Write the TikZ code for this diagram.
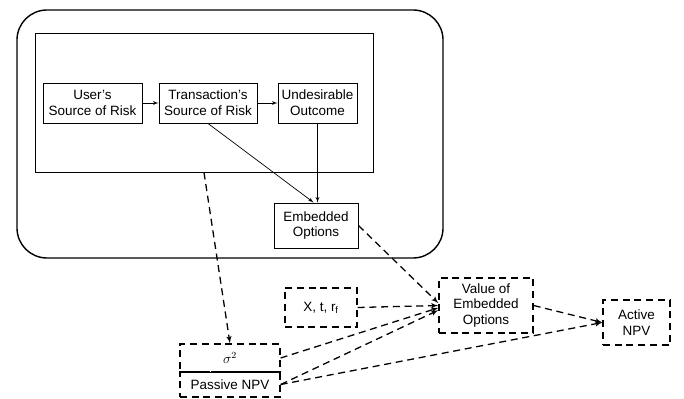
\documentclass[tikz,border=0pt]{standalone}
\usepackage{fontspec}
\setmainfont{Liberation Sans}
\usepackage{tikz}
\usetikzlibrary{arrows}

\begin{document}
\begin{tikzpicture}[x = 0.03cm, y = -0.03cm]
        \tikzset{box/.style = {shape=rectangle,draw,line width=0.8pt,align=center,inner sep=1pt,font=\fontsize{11.5}{13.5}\selectfont}}
        \tikzset{boxd/.style = {box,dash pattern=on 6pt off 4pt,line width=1.1pt}}
        \tikzset{edge/.style = {->,> = latex', line width=0.6pt}}
        \tikzset{edged/.style = {->,> = latex', line width=1.1pt, dash pattern=on 6pt off 4pt}}
        \useasboundingbox (0,0) rectangle (684,399);
        % frames
        \node[draw, line width=1.2pt, rounded corners=0.9cm, minimum width=12.78cm, minimum height=7.44cm] (firm) at (230,134) {};
        \node[draw, line width=0.8pt, minimum width=10.14cm, minimum height=4.17cm] (risk) at (204,102.5) {};
        % boxes
        \node[box, minimum width=2.97cm, minimum height=1.2cm] (users) at (92.5,103) {User's\\Source of Risk};
        \node[box, minimum width=2.94cm, minimum height=1.2cm] (trans) at (208,103) {Transaction's\\Source of Risk};
        \node[box, minimum width=2.37cm, minimum height=1.2cm] (undes) at (317.5,103) {Undesirable\\Outcome};
        \node[box, minimum width=2.52cm, minimum height=1.35cm] (embed) at (316,225.5) {Embedded\\Options};
        % dashed boxes
        \node[boxd, minimum width=2.16cm, minimum height=1.17cm] (xtr) at (321,307.5) {X, t, r$_\mathrm{f}$};
        \node[boxd, minimum width=3cm, minimum height=0.84cm] (sigma) at (230,358) {$\sigma^2$};
        \node[boxd, minimum width=3cm, minimum height=0.75cm] (passive) at (230,384.5) {Passive NPV};
        \node[boxd, minimum width=2.82cm, minimum height=1.65cm] (value) at (486,305.5) {Value of\\Embedded\\Options};
        \node[boxd, minimum width=2.01cm, minimum height=1.35cm] (active) at (636.5,322.5) {Active\\NPV};
        \draw[line width=1.1pt] (sigma.south west) to (sigma.south east);

        %edges solid
        \draw[edge] (users) to (trans);
        \draw[edge] (trans) to (undes);
        \draw[edge] (trans.south) to ([xshift=-2pt]embed.north);
        \draw[edge] (undes.south) to (undes.south |- embed.north);
        %edges dashed
        \draw[edged] (risk.south) to (sigma.north);
        \draw[edged] (embed.east) to ([yshift=2pt]value.west);
        \draw[edged] (xtr.east) to (value.west);
        \draw[edged] (sigma.east) to ([yshift=-2pt]value.west);
        \draw[edged] (passive.east) to ([yshift=-4pt]value.west);
        \draw[edged] (passive.east) to (active.west);
        \draw[edged] (value.east) to (active.west);
\end{tikzpicture}
\end{document}
